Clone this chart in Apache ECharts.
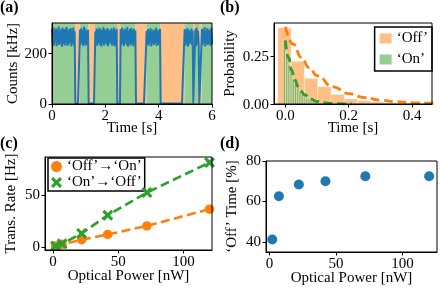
<!DOCTYPE html>
<html><head><meta charset="utf-8">
<script src="https://cdn.jsdelivr.net/npm/echarts@6/dist/echarts.min.js"></script>
<style>
html,body{margin:0;padding:0;background:#fff}
#wrap{position:relative;width:440px;height:294px}
#c{width:440px;height:294px}
.tl{position:absolute;z-index:10;font:15px 'Liberation Serif','DejaVu Serif',serif;color:#000;line-height:16px;text-align:right;white-space:nowrap}
</style>
</head><body><div id="wrap"><div id="c"></div></div>
<script>
// ---------- Panel (a): count-rate trace ----------
const traceStep = 0.025; // s between samples
const counts = [
  298, 238, 305, 232, 292, 244, 301, 230, 296, 241, 308, 235, 290, 243, 299, 228, 303, 239, 294, 233,
  300, 242, 306, 231, 291, 237, 297, 245, 302, 229, 295, 240, 304, 234, 289, 2, 2, 2, 2, 2,
  2, 2, 296, 236, 301, 242, 293, 230, 307, 238, 299, 233, 290, 240, 295, 2, 2, 2, 2, 2,
  2, 2, 2, 2, 2, 288, 239, 300, 231, 294, 244, 303, 235, 297, 228, 292, 241, 305, 233, 298,
  243, 291, 236, 302, 230, 296, 239, 289, 245, 301, 232, 295, 237, 304, 229, 293, 242, 299, 2, 2,
  2, 2, 2, 297, 234, 303, 240, 291, 231, 300, 243, 294, 236, 306, 228, 290, 239, 298, 233, 302,
  241, 293, 230, 299, 237, 292, 2, 2, 2, 2, 2, 2, 2, 2, 2, 2, 2, 2, 2, 2,
  2, 2, 290, 238, 298, 232, 294, 243, 301, 229, 288, 240, 296, 235, 292, 244, 303, 231, 295, 239,
  290, 234, 299, 2, 2, 2, 2, 2, 2, 2, 2, 2, 2, 2, 2, 2, 2, 2, 2, 2,
  2, 2, 2, 2, 2, 2, 2, 2, 2, 2, 2, 2, 2, 2, 2, 2, 2, 2, 2, 298,
  232, 293, 242, 302, 228, 295, 238, 289, 245, 300, 235, 292, 2, 2, 2, 297, 230, 303, 239, 291,
  237, 2, 2, 2, 2, 299, 233, 294, 244, 305, 229, 290, 240, 301, 235, 296, 242, 292, 231, 303, 238
];
const stateEdges = [0, 0.8625, 1.0375, 1.3625, 1.6125, 2.4375, 2.5625, 3.1375, 3.5375, 4.0625, 4.9625, 5.2875, 5.3625, 5.5125, 5.6125, 6];
const states = [1, 0, 1, 0, 1, 0, 1, 0, 1, 0, 1, 0, 1, 0, 1]; // 1 = 'On', 0 = 'Off'

// ---------- Panel (b): dwell-time histograms ----------
const offBinStart = -0.024, offBinWidth = 0.042;
const offHist = [0.395, 0.222, 0.133, 0.09, 0.05, 0.026, 0.017, 0.011, 0.007, 0.005, 0.003, 0.002];
const onBinStart = -0.0065, onBinWidth = 0.007;
const onHist = [0.33, 0.262, 0.205, 0.168, 0.131, 0.104, 0.084, 0.066, 0.053, 0.041, 0.034, 0.027, 0.021, 0.017, 0.014,
  0.011, 0.009, 0.0072, 0.0058, 0.0046, 0.0037, 0.003, 0.0024, 0.0019, 0.0015, 0.0012, 0.001, 0.0008, 0.0006, 0.0005];
const offFitTime = [0, 0.025, 0.05, 0.075, 0.1, 0.15, 0.2, 0.25, 0.3, 0.35, 0.4, 0.45, 0.5];
const offFitProb = [0.40, 0.31, 0.242, 0.189, 0.147, 0.089, 0.054, 0.033, 0.02, 0.012, 0.0073, 0.0044, 0.0027];
const onFitTime = [0, 0.01, 0.02, 0.03, 0.04, 0.05, 0.06, 0.08, 0.1, 0.12, 0.15, 0.18, 0.21];
const onFitProb = [0.33, 0.24, 0.173, 0.125, 0.09, 0.066, 0.048, 0.025, 0.013, 0.007, 0.0027, 0.001, 0.0004];

// ---------- Panels (c), (d) ----------
const power = [2, 7, 22, 42, 72, 120];
const rateOffOn = [1, 2.5, 7, 12, 20.2, 36.3];
const rateOnOff = [1, 3, 13, 30.5, 52.2, 81];
const offTimePct = [41.2, 62.6, 68.4, 70, 72.5, 72.5];

// ---------- Tick labels ----------
const aXTicks = [0, 2, 4, 6], aYTicks = [0, 200];
const bXTicks = [0, 0.2, 0.4], bYTicks = [0, 0.25];
const cXTicks = [0, 50, 100], cYTicks = [0, 50];
const dXTicks = [0, 50, 100], dYTicks = [40, 60, 80];

const FONT = "'Liberation Serif', 'DejaVu Serif', serif";
const C_BLUE = '#1f77b4', C_ORANGE = '#ff7f0e', C_GREEN = '#2ca02c';
const F_ORANGE = 'rgba(255,127,14,0.5)', F_GREEN = 'rgba(44,160,44,0.5)';
const A_YMAX = 322, B_XMIN = -0.036, B_YMAX = 0.42;
const X_PATH = 'path://M0,2L2,0L5,3L8,0L10,2L7,5L10,8L8,10L5,7L2,10L0,8L3,5Z';
const GRIDS = [
  {left: 52, top: 23, width: 160, height: 81},
  {left: 274, top: 23, width: 158, height: 81},
  {left: 45, top: 157, width: 167, height: 93},
  {left: 266, top: 161, width: 171, height: 91}
];

function ax(opt) {
  const ticks = opt.ticks, fmt = opt.fmt || (v => String(v));
  return {
    type: 'value', gridIndex: opt.grid, min: opt.min, max: opt.max,
    name: opt.name, nameLocation: 'middle', nameGap: opt.gap, nameMoveOverlap: false,
    nameTextStyle: {fontFamily: FONT, fontSize: 15, color: '#000'},
    axisLine: {show: true, onZero: false, lineStyle: {color: '#000', width: 1}},
    axisTick: {show: true, length: 3.5, customValues: ticks, lineStyle: {color: '#000', width: 1}},
    axisLabel: {show: opt.labels !== false, customValues: ticks, formatter: fmt, color: '#000', fontFamily: FONT, fontSize: 15,
      margin: 5, showMinLabel: true, showMaxLabel: true, hideOverlap: false},
    splitLine: {show: false}, z: 5
  };
}

const chart = echarts.init(document.getElementById('c'), null, {renderer: 'canvas'});

function histRender(start, width, fill) {
  return function (params, api) {
    const k = api.value(0);
    const x0 = start + k * width, x1 = x0 + width;
    const p0 = api.coord([x0, api.value(1)]);
    const p1 = api.coord([x1, 0]);
    const shape = echarts.graphic.clipRectByRect(
      {x: p0[0], y: p0[1], width: p1[0] - p0[0], height: p1[1] - p0[1]}, params.coordSys);
    return shape && {type: 'rect', shape: shape,
      style: {fill: fill, stroke: 'rgba(255,255,255,0.5)', lineWidth: 0.8}};
  };
}

const option = {
  animation: false,
  backgroundColor: '#fff',
  title: [
    {text: '(a)', left: 0, top: 0},
    {text: '(b)', left: 220, top: 0},
    {text: '(c)', left: 0, top: 136},
    {text: '(d)', left: 220, top: 136}
  ].map(t => Object.assign(t, {padding: 0, textStyle: {fontFamily: FONT, fontSize: 16, fontWeight: 'bold', color: '#000'}})),
  grid: GRIDS.map(g => Object.assign({}, g, {show: true, z: 5, backgroundColor: 'transparent', borderColor: '#000', borderWidth: 1})),
  xAxis: [
    ax({grid: 0, min: 0, max: 6, ticks: aXTicks, name: 'Time [s]', gap: 17}),
    ax({grid: 1, min: B_XMIN, max: 0.463, ticks: bXTicks, fmt: v => v.toFixed(1), name: 'Time [s]', gap: 17}),
    ax({grid: 2, min: -6.1, max: 121.9, ticks: cXTicks, name: 'Optical Power [nW]', gap: 19}),
    ax({grid: 3, min: -2.7, max: 125.9, ticks: dXTicks, name: 'Optical Power [nW]', gap: 19})
  ],
  yAxis: [
    ax({grid: 0, min: 0, max: A_YMAX, ticks: aYTicks, name: 'Counts [kHz]', gap: 31}),
    ax({grid: 1, min: 0, max: B_YMAX, ticks: bYTicks, fmt: v => v.toFixed(2), name: 'Probability', gap: 36, labels: false}),
    ax({grid: 2, min: -2.9, max: 86.3, ticks: cYTicks, name: 'Trans. Rate [Hz]', gap: 26}),
    ax({grid: 3, min: 35, max: 80, ticks: dYTicks, name: '‘Off’ Time [%]', gap: 26})
  ],
  legend: [
    {
      orient: 'vertical', right: 8, top: 27, padding: [4, 4, 4, 5], itemGap: 6,
      itemWidth: 12, itemHeight: 10, backgroundColor: '#fff', borderColor: '#000', borderWidth: 1.5,
      textStyle: {fontFamily: FONT, fontSize: 15, color: '#000'}, selectedMode: false,
      data: [
        {name: '‘Off’', icon: 'rect', itemStyle: {color: F_ORANGE, borderWidth: 0}},
        {name: '‘On’', icon: 'rect', itemStyle: {color: F_GREEN, borderWidth: 0}}
      ]
    },
    {
      orient: 'vertical', left: 48, top: 158, padding: [1, 3, 1, 3], itemGap: 1,
      itemWidth: 11, itemHeight: 11, backgroundColor: '#fff', borderColor: '#000', borderWidth: 1.5,
      textStyle: {fontFamily: FONT, fontSize: 15, color: '#000', lineHeight: 12}, selectedMode: false,
      data: [
        {name: '‘Off’→‘On’', icon: 'circle', itemStyle: {color: C_ORANGE}},
        {name: '‘On’→‘Off’', icon: X_PATH, itemStyle: {color: C_GREEN}}
      ]
    }
  ],
  series: [
    {
      type: 'custom', name: 'states', xAxisIndex: 0, yAxisIndex: 0, z: 1, silent: true,
      data: states.map((s, i) => [stateEdges[i], stateEdges[i + 1], s]),
      encode: {x: [0, 1], y: 2},
      renderItem: function (params, api) {
        const p0 = api.coord([api.value(0), A_YMAX]);
        const p1 = api.coord([api.value(1), 0]);
        return {type: 'rect', shape: {x: p0[0], y: p0[1], width: p1[0] - p0[0], height: p1[1] - p0[1]},
          style: {fill: api.value(2) ? '#96cf96' : '#ffbf87'}};
      }
    },
    {
      type: 'line', name: 'trace', xAxisIndex: 0, yAxisIndex: 0, z: 2,
      data: counts.map((v, i) => [i * traceStep, v]),
      showSymbol: false, symbol: 'none', clip: true,
      lineStyle: {color: C_BLUE, width: 2}
    },
    {
      type: 'custom', name: '‘Off’', xAxisIndex: 1, yAxisIndex: 1, z: 2, itemStyle: {color: F_ORANGE},
      data: offHist.map((h, k) => [k, h]), encode: {x: 0, y: 1},
      renderItem: histRender(offBinStart, offBinWidth, F_ORANGE)
    },
    {
      type: 'custom', name: '‘On’', xAxisIndex: 1, yAxisIndex: 1, z: 2, itemStyle: {color: F_GREEN},
      data: onHist.map((h, k) => [k, h]), encode: {x: 0, y: 1},
      renderItem: histRender(onBinStart, onBinWidth, F_GREEN)
    },
    {
      type: 'line', name: 'onFit', xAxisIndex: 1, yAxisIndex: 1, z: 3, smooth: true, smoothMonotone: 'x',
      data: onFitTime.map((t, i) => [t, onFitProb[i]]), symbol: 'none', clip: true,
      lineStyle: {color: C_GREEN, width: 2.8, type: [9, 4.5]}
    },
    {
      type: 'line', name: 'offFit', xAxisIndex: 1, yAxisIndex: 1, z: 3, smooth: true, smoothMonotone: 'x',
      data: offFitTime.map((t, i) => [t, offFitProb[i]]), symbol: 'none', clip: true,
      lineStyle: {color: C_ORANGE, width: 2.8, type: [9, 4.5]}
    },
    {
      type: 'line', name: 'fitOffOn', xAxisIndex: 2, yAxisIndex: 2, z: 3,
      data: power.map((p, i) => [p, rateOffOn[i]]), symbol: 'none',
      lineStyle: {color: C_ORANGE, width: 2.6, type: [9, 4.5]}
    },
    {
      type: 'line', name: 'fitOnOff', xAxisIndex: 2, yAxisIndex: 2, z: 3,
      data: power.map((p, i) => [p, rateOnOff[i]]), symbol: 'none',
      lineStyle: {color: C_GREEN, width: 2.6, type: [9, 4.5]}
    },
    {
      type: 'scatter', name: '‘Off’→‘On’', xAxisIndex: 2, yAxisIndex: 2, z: 4,
      data: power.map((p, i) => [p, rateOffOn[i]]), symbol: 'circle', symbolSize: 9.5,
      itemStyle: {color: C_ORANGE, opacity: 1}
    },
    {
      type: 'scatter', name: '‘On’→‘Off’', xAxisIndex: 2, yAxisIndex: 2, z: 4,
      data: power.map((p, i) => [p, rateOnOff[i]]), symbol: X_PATH, symbolSize: 11,
      itemStyle: {color: C_GREEN, opacity: 1}
    },
    {
      type: 'scatter', name: 'offTime', xAxisIndex: 3, yAxisIndex: 3, z: 4,
      data: power.map((p, i) => [p, offTimePct[i]]), symbol: 'circle', symbolSize: 10,
      itemStyle: {color: C_BLUE, opacity: 1}
    }
  ]
};
chart.setOption(option);

// Panel (b) y tick labels: positioned through the chart's own scale, shown as real text above the canvas
function bPixel(v) {
  let p = null;
  try { p = chart.convertToPixel({gridIndex: 1}, [B_XMIN, v]); } catch (e) { p = null; }
  if (!p || !isFinite(p[0]) || !isFinite(p[1])) {
    const g = GRIDS[1];
    p = [g.left, g.top + g.height * (1 - v / B_YMAX)];
  }
  return p;
}
const wrap = document.getElementById('wrap');
bYTicks.forEach(v => {
  const p = bPixel(v);
  const d = document.createElement('div');
  d.className = 'tl';
  d.textContent = v.toFixed(2);
  d.style.left = '0px';
  d.style.width = (p[0] - 5) + 'px';
  d.style.top = (p[1] - 8) + 'px';
  wrap.appendChild(d);
});
</script>
</body></html>
